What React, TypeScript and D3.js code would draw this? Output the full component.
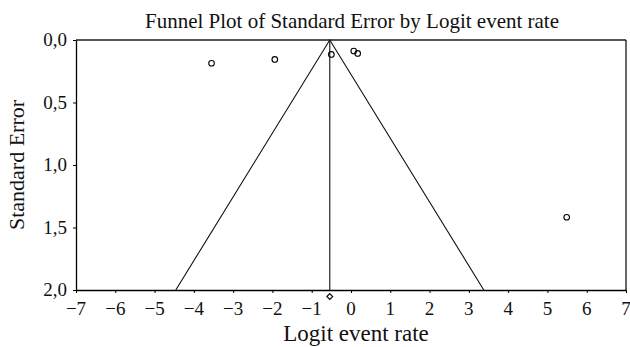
import React, { useEffect, useRef } from 'react';
import * as d3 from 'd3';

// study points
const logitRates = [-3.55, -1.94, -0.5, 0.07, 0.17, 5.49];
const stdErrors = [0.186, 0.155, 0.115, 0.088, 0.107, 1.418];

const pooledEstimate = -0.54;
const xTicks = [-7, -6, -5, -4, -3, -2, -1, 0, 1, 2, 3, 4, 5, 6, 7];
const yTicks = [0, 0.5, 1.0, 1.5, 2.0];

const title = 'Funnel Plot of Standard Error by Logit event rate';
const xTitle = 'Logit event rate';
const yTitle = 'Standard Error';

const W = 630;
const H = 347;

const App = () => {
  const ref = useRef<SVGSVGElement>(null);

  useEffect(() => {
    const svg = d3.select(ref.current);
    svg.selectAll('*').remove();

    const font = 'Liberation Serif, serif';
    const left = 76, right = 626, top = 40, bottom = 290;

    const x = d3.scaleLinear().domain([-7, 7]).range([left, right]);
    const y = d3.scaleLinear().domain([0, 2]).range([top, bottom]);

    svg.append('rect')
      .attr('width', W).attr('height', H)
      .attr('fill', '#fff');

    // frame
    svg.append('line')
      .attr('x1', left).attr('x2', right)
      .attr('y1', top).attr('y2', top)
      .attr('stroke', '#555').attr('stroke-width', 2);
    svg.append('line')
      .attr('x1', right).attr('x2', right)
      .attr('y1', top).attr('y2', bottom)
      .attr('stroke', '#000').attr('stroke-width', 1.2);

    // axes: lines and ticks from d3, labels drawn below
    const xAxis = svg.append('g')
      .attr('transform', `translate(0,${bottom})`)
      .call(d3.axisBottom(x).tickValues(xTicks).tickSize(3).tickSizeOuter(0).tickFormat(() => ''));
    xAxis.select('.domain').attr('stroke', '#000').attr('stroke-width', 1.3);
    xAxis.selectAll('.tick line').attr('stroke', '#000');

    const yAxis = svg.append('g')
      .attr('transform', `translate(${left},0)`)
      .call(d3.axisLeft(y).tickValues(yTicks).tickSize(3).tickSizeOuter(0).tickFormat(() => ''));
    yAxis.select('.domain').attr('stroke', '#000').attr('stroke-width', 1.3);
    yAxis.selectAll('.tick line').attr('stroke', '#000');

    svg.append('g')
      .selectAll('text')
      .data(xTicks)
      .enter().append('text')
      .attr('x', d => x(d))
      .attr('y', bottom + 25)
      .attr('text-anchor', 'middle')
      .attr('font-family', font)
      .attr('font-size', 19)
      .attr('fill', '#111')
      .text(d => String(d).replace('-', '\u2212'));

    svg.append('g')
      .selectAll('text')
      .data(yTicks)
      .enter().append('text')
      .attr('x', left - 9)
      .attr('y', d => y(d))
      .attr('dy', '0.32em')
      .attr('text-anchor', 'end')
      .attr('font-family', font)
      .attr('font-size', 19)
      .attr('fill', '#111')
      .text(d => d3.format('.1f')(d).replace('.', ','));

    // funnel
    const funnel = [
      { se: 2, v: pooledEstimate - 1.96 * 2 },
      { se: 0, v: pooledEstimate },
      { se: 2, v: pooledEstimate + 1.96 * 2 },
    ];
    svg.append('path')
      .datum(funnel)
      .attr('fill', 'none')
      .attr('stroke', '#111')
      .attr('stroke-width', 1.1)
      .attr('d', d3.line<{ se: number; v: number }>().x(d => x(d.v)).y(d => y(d.se)));

    svg.append('line')
      .attr('x1', x(pooledEstimate)).attr('x2', x(pooledEstimate))
      .attr('y1', y(0)).attr('y2', y(2))
      .attr('stroke', '#111').attr('stroke-width', 1.1);

    // studies
    svg.append('g')
      .selectAll('circle')
      .data(logitRates)
      .enter().append('circle')
      .attr('cx', d => x(d))
      .attr('cy', (d, i) => y(stdErrors[i]))
      .attr('r', 2.8)
      .attr('fill', 'none')
      .attr('stroke', '#000')
      .attr('stroke-width', 1.1);

    // pooled diamond
    svg.append('path')
      .attr('d', d3.symbol().type(d3.symbolDiamond2).size(22)())
      .attr('transform', `translate(${x(pooledEstimate)},${bottom + 6.5})`)
      .attr('fill', 'none')
      .attr('stroke', '#000')
      .attr('stroke-width', 1.1);

    // titles
    svg.append('text')
      .attr('x', 352).attr('y', 28)
      .attr('text-anchor', 'middle')
      .attr('font-family', font).attr('font-size', 21)
      .attr('fill', '#111')
      .text(title);

    svg.append('text')
      .attr('x', 356).attr('y', 341)
      .attr('text-anchor', 'middle')
      .attr('font-family', font).attr('font-size', 23)
      .attr('fill', '#111')
      .text(xTitle);

    svg.append('text')
      .attr('transform', `translate(24,${(top + bottom) / 2}) rotate(-90)`)
      .attr('text-anchor', 'middle')
      .attr('font-family', font).attr('font-size', 22)
      .attr('fill', '#111')
      .text(yTitle);
  }, []);

  return (
    <svg ref={ref} width={W} height={H} style={{ position: 'absolute', left: 0, top: 0 }}></svg>
  );
};

export default App;
